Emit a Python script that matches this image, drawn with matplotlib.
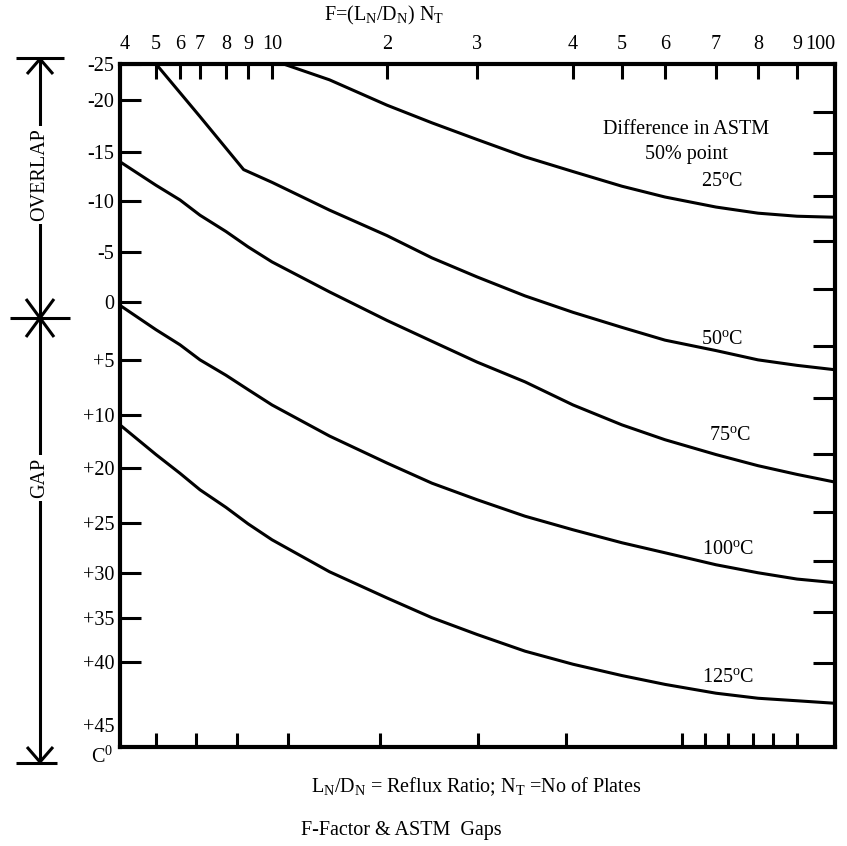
import numpy as np
import matplotlib
matplotlib.use("Agg")
import matplotlib.pyplot as plt

plt.rcParams['font.family'] = ['Liberation Serif', 'DejaVu Serif']
plt.rcParams['mathtext.fontset'] = 'custom'
plt.rcParams['mathtext.rm'] = 'Liberation Serif'
plt.rcParams['mathtext.it'] = 'Liberation Serif:italic'

# F axis (top), printed as 4..10, 2..9 (x10), 100
F_TICKS = [4, 5, 6, 7, 8, 9, 10, 20, 30, 40, 50, 60, 70, 80, 90, 100]
F_TICK_LABELS = ['4', '5', '6', '7', '8', '9', '10', '2', '3', '4', '5', '6', '7', '8', '9', '100']
# hand-drawn scale: where each F value sits across the chart (pixels of the original)
F_POS = [120, 156, 180, 200, 226, 248, 272, 387, 477, 573, 622, 665, 716, 758, 797, 835]

# ASTM 50% point difference axis (left)
Y_VALS = [-25, -20, -15, -10, -5, 0, 5, 10, 20, 25, 30, 35, 40, 45, 50]
Y_LABELS = ['-25', '-20', '-15', '-10', '-5', '0', '+5', '+10', '+20', '+25', '+30', '+35', '+40', '+45']
Y_POS = [64, 100, 152, 201, 252, 302, 360, 415, 468, 523, 573, 618, 662, 725, 787]

# unlabelled ticks on the right and bottom edges
RIGHT_TICKS = [-18.8, -14.9, -10.5, -6.1, -1.3, 3.8, 8.5, 17.4, 24.0, 28.8, 34.4, 40.1]
BOTTOM_TICKS = [5, 6.8, 8.5, 11.4, 19.4, 30.1, 39.3, 63.3, 67.8, 72.9, 78.8, 83.8, 90]

# curves
F_25 = [11, 15, 20, 25, 30, 35, 40, 50, 60, 70, 80, 90, 100]
D_25 = [-25, -22.8, -19.5, -17.8, -16.2, -14.5, -13.0, -11.5, -10.4, -9.4, -8.8, -8.5, -8.4]

F_50 = [5, 7, 8.8, 10, 15, 20, 25, 30, 35, 40, 50, 60, 70, 80, 90, 100]
D_50 = [-25, -18.4, -13.2, -11.9, -9.1, -6.6, -4.4, -2.5, -0.6, 0.9, 2.2, 3.3, 4.2, 5.0, 5.5, 5.9]

F_LOW = [4, 5, 6, 7, 8, 9, 10, 15, 20, 25, 30, 35, 40, 50, 60, 70, 80, 90, 100]
D_75 = [-14, -11.6, -10.1, -8.6, -7.0, -5.5, -4.0, -1.0, 1.6, 3.4, 5.2, 7.0, 9.1, 11.9, 14.7, 17.5, 19.6, 20.6, 21.3]
D_100 = [0.3, 2.4, 3.7, 5.0, 6.4, 7.7, 9.1, 14.0, 19.1, 21.4, 22.9, 24.4, 25.7, 27.0, 28.0, 29.2, 30.0, 30.7, 31.1]
D_125 = [11.9, 17.5, 20.5, 22.0, 23.6, 25.1, 26.7, 29.9, 32.8, 35.0, 36.9, 38.8, 40.2, 41.1, 41.8, 42.5, 42.9, 43.1, 43.3]


def fx(v):
    return np.interp(v, F_TICKS, F_POS)


def fx_inv(p):
    return np.interp(p, F_POS, F_TICKS)


def fy(v):
    return np.interp(v, Y_VALS, Y_POS)


def fy_inv(p):
    return np.interp(p, Y_POS, Y_VALS)


W, H = 847, 846
L, R, T, B = 120, 835, 64, 747
LW = 2.2
fs = 14.5

fig = plt.figure(figsize=(W / 100, H / 100), dpi=100)
ax = fig.add_axes([L / W, 1 - B / H, (R - L) / W, (B - T) / H])
ax.set_xscale('function', functions=(fx, fx_inv))
ax.set_yscale('function', functions=(fy, fy_inv))
ax.set_xlim(4, 100)
ax.set_ylim(46.8, -25)

# twins first (they reset the tick sides of ax)
axr = ax.twinx()
axr.set_yscale('function', functions=(fy, fy_inv))
axr.set_ylim(46.8, -25)
axr.set_yticks(RIGHT_TICKS)
axr.yaxis.set_minor_locator(plt.NullLocator())
axr.tick_params(axis='y', direction='in', length=16, width=LW,
                left=False, right=True, labelleft=False, labelright=False)
for s in axr.spines.values():
    s.set_visible(False)

axb = ax.twiny()
axb.set_xscale('function', functions=(fx, fx_inv))
axb.set_xlim(4, 100)
axb.set_xticks(BOTTOM_TICKS)
axb.xaxis.set_minor_locator(plt.NullLocator())
axb.tick_params(axis='x', direction='in', length=10, width=LW,
                bottom=True, top=False, labelbottom=False, labeltop=False)
for s in axb.spines.values():
    s.set_visible(False)

for f, d in [(F_25, D_25), (F_50, D_50), (F_LOW, D_75), (F_LOW, D_100), (F_LOW, D_125)]:
    ax.plot(f, d, color='black', lw=LW, solid_joinstyle='round')

for s in ax.spines.values():
    s.set_linewidth(3)

ax.set_xticks(F_TICKS, F_TICK_LABELS)
ax.xaxis.set_minor_locator(plt.NullLocator())
ax.tick_params(axis='x', which='major', direction='in', length=11, width=LW,
               pad=7, labelsize=fs, top=True, bottom=False,
               labeltop=True, labelbottom=False)
ax.set_yticks(Y_VALS[:-1], Y_LABELS)
ax.yaxis.set_minor_locator(plt.NullLocator())
ax.tick_params(axis='y', which='major', direction='in', length=15, width=LW,
               pad=4, labelsize=fs, left=True, right=False,
               labelleft=True, labelright=False)
ax.yaxis.get_major_ticks()[-1].tick1line.set_visible(False)
xt = ax.xaxis.get_major_ticks()
xt[0].tick2line.set_visible(False)
xt[-1].tick2line.set_visible(False)
xt[-1].label2.set_horizontalalignment('right')
xt[0].label2.set_horizontalalignment('left')

# overlay in original-pixel coordinates for the annotations
deco = fig.add_axes([0, 0, 1, 1], zorder=5)
deco.set_xlim(0, W)
deco.set_ylim(H, 0)
deco.axis('off')

deco.text(384, 15, r'F=(L$_{\mathrm{N}}$/D$_{\mathrm{N}}$) N$_{\mathrm{T}}$', ha='center', va='center', fontsize=fs)
deco.text(476, 787, r'L$_{\mathrm{N}}$/D$_{\mathrm{N}}$ = Reflux Ratio; N$_{\mathrm{T}}$ =No of Plates',
          ha='center', va='center', fontsize=fs)
deco.text(401, 831, 'F-Factor & ASTM  Gaps', ha='center', va='center', fontsize=fs)
deco.text(113, 757, r'C$^{0}$', ha='right', va='center', fontsize=fs)

deco.text(686, 130, 'Difference in ASTM', ha='center', va='center', fontsize=fs)
deco.text(686, 155, '50% point', ha='center', va='center', fontsize=fs)
for x, y, t in [(722, 182, '25'), (722, 340, '50'), (730, 435, '75'), (728, 550, '100'), (728, 678, '125')]:
    deco.text(x, y, t + r'$^{\mathrm{o}}$C', ha='center', va='center', fontsize=fs)

# overlap / gap arrows on the left
k = dict(color='black', lw=LW, solid_capstyle='butt')
deco.plot([40, 40], [58, 763], **k)
deco.plot([16, 64], [58, 58], **k)
deco.plot([27, 40, 53], [74, 59, 74], **k)
deco.plot([16, 57], [763, 763], **k)
deco.plot([27, 40, 53], [747, 762, 747], **k)
deco.plot([10, 70], [318, 318], **k)
deco.plot([26, 54], [299, 337], **k)
deco.plot([54, 26], [299, 337], **k)
deco.text(40, 175, 'OVERLAP', rotation=90, ha='center', va='center', fontsize=fs,
          bbox=dict(facecolor='white', edgecolor='none', pad=2))
deco.text(40, 478, 'GAP', rotation=90, ha='center', va='center', fontsize=fs,
          bbox=dict(facecolor='white', edgecolor='none', pad=2))

fig.savefig('out.png', dpi=100, facecolor='white')
